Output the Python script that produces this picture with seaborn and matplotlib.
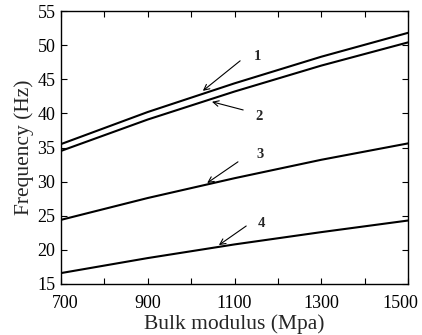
import matplotlib
matplotlib.use("Agg")
import matplotlib.pyplot as plt
import matplotlib.transforms as mtransforms
import numpy as np
import pandas as pd
import seaborn as sns

# Bulk modulus (MPa) and natural frequency of the first four modes (Hz)
bulk_modulus = [700, 900, 1100, 1300, 1500]
mode_1 = [35.5, 40.2, 44.4, 48.3, 51.8]
mode_2 = [34.5, 39.1, 43.2, 47.0, 50.4]
mode_3 = [24.4, 27.6, 30.5, 33.2, 35.6]
mode_4 = [16.6, 18.8, 20.8, 22.6, 24.3]
mode_names = ["1", "2", "3", "4"]

x_ticks = [700, 800, 900, 1000, 1100, 1200, 1300, 1400, 1500]
x_tick_labels = ["700", "", "900", "", "1100", "", "1300", "", "1500"]
y_ticks = [15, 20, 25, 30, 35, 40, 45, 50, 55]

# label position, arrow tail, arrow head (data coordinates)
label_xy = [(1154, 48.3), (1156, 39.5), (1159, 34.0), (1163, 23.9)]
arrow_tail = [(1113, 47.7), (1120, 40.5), (1108, 32.9), (1127, 23.5)]
arrow_head = [(1027, 43.3), (1048, 41.7), (1037, 29.8), (1064, 20.7)]

df = pd.DataFrame({
    "Bulk modulus": bulk_modulus * 4,
    "Frequency": mode_1 + mode_2 + mode_3 + mode_4,
    "mode": [m for m in mode_names for _ in bulk_modulus],
})

sns.set_style("ticks")
plt.rcParams["font.family"] = ["Liberation Serif", "DejaVu Serif"]

fig = plt.figure(figsize=(4.22, 3.35), dpi=100)
ax = fig.add_axes([61 / 422, 1 - 284 / 335, 347 / 422, 273 / 335])

sns.lineplot(data=df, x="Bulk modulus", y="Frequency", units="mode",
             estimator=None, color="black", linewidth=1.5, ax=ax, legend=False)

for name, (lx, ly), tail, head in zip(mode_names, label_xy, arrow_tail, arrow_head):
    ax.text(lx, ly, name, fontsize=10.5, fontweight="bold", ha="center", va="center")
    ax.annotate("", xy=head, xytext=tail,
                arrowprops=dict(arrowstyle="->", color="black", lw=0.8,
                                shrinkA=0, shrinkB=0, mutation_scale=10))

ax.set_xlim(700, 1500)
ax.set_ylim(15, 55)
ax.set_xticks(x_ticks)
ax.set_xticklabels(x_tick_labels)
ax.set_yticks(y_ticks)
ax.tick_params(direction="in", top=True, right=True, labelsize=13,
               length=4, width=0.8, colors="black")
ax.tick_params(axis="x", pad=8)
ax.tick_params(axis="y", pad=4)

# keep the end labels of the x axis inside the frame
labels = ax.get_xticklabels()
labels[0].set_transform(labels[0].get_transform() +
                        mtransforms.ScaledTranslation(4 / 100, 0, fig.dpi_scale_trans))
labels[-1].set_transform(labels[-1].get_transform() +
                         mtransforms.ScaledTranslation(-8 / 100, 0, fig.dpi_scale_trans))

for s in ax.spines.values():
    s.set_linewidth(1.0)
    s.set_color("black")
ax.set_xlabel("Bulk modulus (Mpa)", fontsize=15.5)
ax.set_ylabel("Frequency (Hz)", fontsize=15.5)
ax.xaxis.set_label_coords(0.5, (1 - 324 / 335 - (1 - 284 / 335)) / (273 / 335))
ax.yaxis.set_label_coords(-(61 - 24) / 347, 0.5)
ax.xaxis.label.set_va("center")
ax.yaxis.label.set_va("center")

fig.savefig("out.png", dpi=100)
